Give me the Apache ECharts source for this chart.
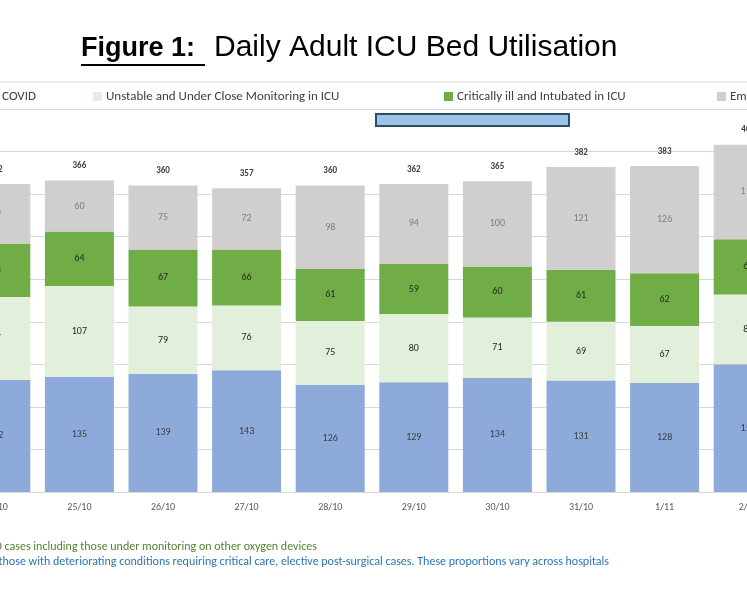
<!DOCTYPE html>
<html><head><meta charset="utf-8">
<script src="https://cdn.jsdelivr.net/npm/echarts@6/dist/echarts.min.js"></script>
<style>html,body{margin:0;padding:0;background:#fff;overflow:hidden}#c{position:absolute;left:-100px;top:0;width:947px;height:598px}</style>
</head><body><div id="c"></div>
<script>
var dates = ['24/10','25/10','26/10','27/10','28/10','29/10','30/10','31/10','1/11','2/11'];
var stable = [132,135,139,143,126,129,134,131,128,150];
var unstable = [97,107,79,76,75,80,71,69,67,82];
var intubated = [63,64,67,66,61,59,60,61,62,65];
var other = [70,60,75,72,98,94,100,121,126,111];
var totals = [362,366,360,357,360,362,365,382,383,408];

var chart = echarts.init(document.getElementById('c'));
var F = 'Calibri, Carlito, "Liberation Sans", Arial, sans-serif';
var O = 100; // page offset of the container
function seg(name, data, color, lc) {
  return {name: name, type: 'bar', stack: 'a', data: data, barWidth: 69,
    itemStyle: {color: color},
    label: {show: true, position: 'inside', color: lc, fontSize: 10, fontFamily: F}};
}
var legendItems = [
  ['Stable Patients Requiring Oxygen in ICU / COVID', '#8eaadb', 36],
  ['Unstable and Under Close Monitoring in ICU', '#e2efda', 106],
  ['Critically ill and Intubated in ICU', '#70ad47', 457],
  ['Emergency and Non-COVID cases', '#d0cece', 730]
];
var g = [
  {type: 'text', x: O + 81, y: 35, style: {text: 'Figure 1:', font: 'bold 27px Arial, "Liberation Sans"', fill: '#000'}},
  {type: 'line', shape: {x1: O + 81, y1: 65, x2: O + 205, y2: 65}, style: {stroke: '#000', lineWidth: 2}},
  {type: 'text', x: O + 214, y: 33, style: {text: 'Daily Adult ICU Bed Utilisation', font: '30px Arial, "Liberation Sans"', fill: '#000'}},
  {type: 'line', shape: {x1: 0, y1: 82, x2: 947, y2: 82}, style: {stroke: '#d9d9d9', lineWidth: 1}},
  {type: 'rect', shape: {x: O + 376, y: 114, width: 193, height: 12}, style: {fill: '#9dc3e6', stroke: '#2f4e6e', lineWidth: 2}},
  {type: 'text', x: O + 317, y: 541, style: {text: 'Stable COVID cases including those under monitoring on other oxygen devices', textAlign: 'right', font: '12px ' + F, fill: '#548235'}},
  {type: 'text', x: O + 609, y: 556, style: {text: 'Other includes those with deteriorating conditions requiring critical care, elective post-surgical cases. These proportions vary across hospitals', textAlign: 'right', font: '12px ' + F, fill: '#2e75b6'}}
];
legendItems.forEach(function (it, i) {
  var x = O + it[2];
  if (i === 0) {
    g.push({type: 'text', x: x, y: 90, style: {text: it[0], textAlign: 'right', font: '13px ' + F, fill: '#404040'}});
    return;
  }
  g.push({type: 'rect', shape: {x: x - 13, y: 92, width: 9, height: 9}, style: {fill: it[1]}});
  g.push({type: 'text', x: x, y: 90, style: {text: it[0], font: '13px ' + F, fill: '#404040'}});
});

chart.setOption({
  animation: false,
  grid: {left: O - 46, top: 109, width: 836, height: 383},
  xAxis: {type: 'category', data: dates,
    axisLine: {lineStyle: {color: '#d9d9d9'}}, axisTick: {show: false},
    axisLabel: {color: '#595959', fontSize: 10, fontFamily: F, margin: 10}},
  yAxis: {type: 'value', min: 0, max: 450, interval: 50, axisLabel: {show: false},
    splitLine: {lineStyle: {color: '#d9d9d9'}}},
  graphic: g,
  series: [
    seg('Stable', stable, '#8eaadb', '#404040'),
    seg('Unstable', unstable, '#e2efda', '#262626'),
    seg('Intubated', intubated, '#70ad47', '#262626'),
    seg('Other', other, '#d0cece', '#7f7f7f'),
    {name: 'Total', type: 'bar', stack: 'a', barWidth: 69, data: totals.map(function () { return 0; }),
      itemStyle: {color: 'transparent'},
      label: {show: true, position: 'top', distance: 10, fontSize: 9, fontWeight: 'bold', color: '#404040', fontFamily: F,
        formatter: function (p) { return totals[p.dataIndex]; }}}
  ]
});
</script></body></html>
